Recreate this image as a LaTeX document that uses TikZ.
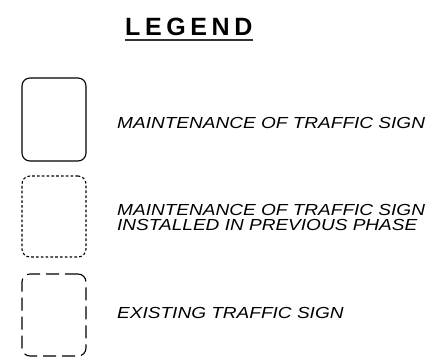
\documentclass[tikz,border=0pt]{standalone}
\usepackage{fontspec}
\setmainfont{Liberation Sans}
\newcommand{\sx}[1]{\scalebox{1.19}[1]{#1}}
\begin{document}
\begin{tikzpicture}[x=1pt,y=-1pt,
  signbox/.style={draw=black, line width=1.1pt, rounded corners=8pt, minimum width=64pt, minimum height=82pt, inner sep=0pt},
  legtext/.style={anchor=base west, inner sep=0pt, align=left, font=\fontsize{16pt}{15pt}\selectfont\itshape}]
\useasboundingbox (0,0) rectangle (441,360);
\node[anchor=base west, inner sep=0pt, font=\fontsize{25pt}{25pt}\selectfont\bfseries] (title) at (125,35) {L\kern4.6pt E\kern4.6pt G\kern4.6pt E\kern4.6pt N\kern4.6pt D};
\draw[line width=1.8pt, draw=black!80] (title.base west) ++(0,5) coordinate (ul1) -- (ul1 -| title.base east);
\node[signbox, minimum height=83pt] (b1) at (54,119.5) {};
\node[signbox, dash pattern=on 2.6pt off 2.2pt, minimum height=81pt] (b2) at (54,216.5) {};
\node[signbox, dash pattern=on 13pt off 6pt, minimum height=82pt] (b3) at (54,315) {};
\node[legtext] (t1) at (117,128.3) {\sx{MAINTENANCE OF TRAFFIC SIGN}};
\node[legtext, anchor=north west] (t2) at (117,204.6) {\sx{MAINTENANCE OF TRAFFIC SIGN}\\\sx{INSTALLED IN PREVIOUS PHASE}};
\node[legtext] (t3) at (117,318.3) {\sx{EXISTING TRAFFIC SIGN}};
\end{tikzpicture}
\end{document}
